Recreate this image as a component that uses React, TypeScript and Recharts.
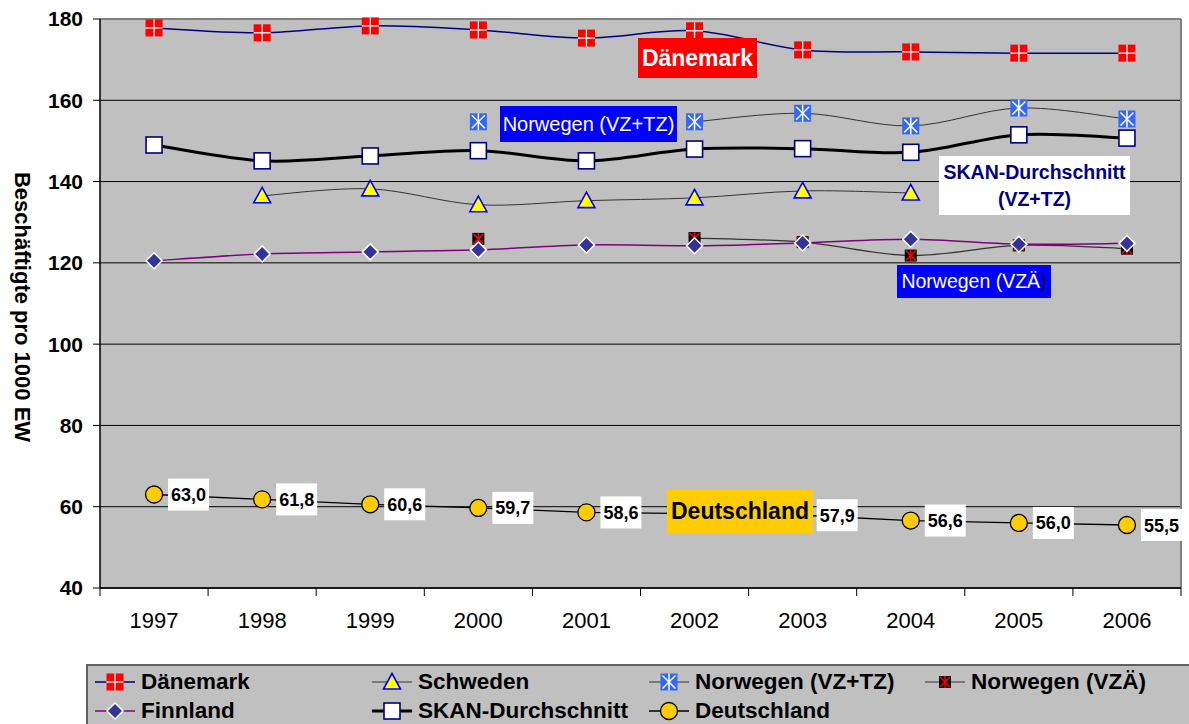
import React from 'react';
import { LineChart, Line, XAxis, YAxis, CartesianGrid, ReferenceLine, LabelList } from 'recharts';

const years = ['1997', '1998', '1999', '2000', '2001', '2002', '2003', '2004', '2005', '2006'];
const daenemark = [177.8, 176.6, 178.3, 177.3, 175.3, 177.1, 172.4, 171.9, 171.6, 171.6];
const schweden = [null, 136.5, 138.2, 134.3, 135.3, 136.0, 137.7, 137.2, null, null];
const norwegenVZTZ = [null, null, null, 154.7, null, 154.7, 156.8, 153.7, 158.1, 155.4];
const norwegenVZAE = [null, null, null, 125.9, null, 126.1, 125.1, 121.8, 124.3, 123.5];
const finnland = [120.5, 122.2, 122.7, 123.2, 124.4, 124.2, 124.9, 125.8, 124.6, 124.8];
const skan = [149.0, 145.1, 146.3, 147.6, 145.1, 148.0, 148.1, 147.2, 151.5, 150.7];
const deutschland = [63.0, 61.8, 60.6, 59.7, 58.6, 58.3, 57.9, 56.6, 56.0, 55.5];
const yTicks = [40, 60, 80, 100, 120, 140, 160, 180];
// value labels hidden under the "Deutschland" annotation in the reference
const hiddenLabelYears = ['2002'];

const FONT = '"Liberation Sans", Arial, Helvetica, sans-serif';

const data = years.map((y, i) => ({
  idx: i,
  year: y,
  dk: daenemark[i],
  se: schweden[i],
  nt: norwegenVZTZ[i],
  na: norwegenVZAE[i],
  fi: finnland[i],
  sk: skan[i],
  de: deutschland[i],
}));

// Excel-like smoothed line (Catmull-Rom through points)
const smooth: any = (context: any) => {
  let pts: number[][] = [];
  return {
    areaStart() {},
    areaEnd() {},
    lineStart() {
      pts = [];
    },
    point(x: number, y: number) {
      pts.push([+x, +y]);
    },
    lineEnd() {
      const n = pts.length;
      if (!n) return;
      context.moveTo(pts[0][0], pts[0][1]);
      if (n === 1) {
        context.lineTo(pts[0][0], pts[0][1]);
        return;
      }
      for (let i = 0; i < n - 1; i++) {
        const p0 = pts[Math.max(i - 1, 0)];
        const p1 = pts[i];
        const p2 = pts[i + 1];
        const p3 = pts[Math.min(i + 2, n - 1)];
        const c1x = p1[0] + (p2[0] - p0[0]) / 6;
        const c1y = p1[1] + (p2[1] - p0[1]) / 6;
        const c2x = p2[0] - (p3[0] - p1[0]) / 6;
        const c2y = p2[1] - (p3[1] - p1[1]) / 6;
        context.bezierCurveTo(c1x, c1y, c2x, c2y, p2[0], p2[1]);
      }
    },
  };
};

type Kind = 'dk' | 'tri' | 'starBlue' | 'starRed' | 'diamond' | 'sq' | 'circle';

function shape(kind: Kind, cx: number, cy: number) {
  switch (kind) {
    case 'dk': {
      const h = 8.5;
      return (
        <g>
          <rect x={cx - h} y={cy - h} width={2 * h} height={2 * h} fill="#FF0000" />
          <line x1={cx} x2={cx} y1={cy - h} y2={cy + h} stroke="#FFFFFF" strokeWidth={1.3} />
          <line x1={cx - h} x2={cx + h} y1={cy} y2={cy} stroke="#FFFFFF" strokeWidth={1.3} />
        </g>
      );
    }
    case 'tri':
      return (
        <polygon
          points={`${cx},${cy - 8.5} ${cx + 8.5},${cy + 7} ${cx - 8.5},${cy + 7}`}
          fill="#FFFF00"
          stroke="#0000FF"
          strokeWidth={1.6}
          strokeLinejoin="miter"
        />
      );
    case 'starBlue': {
      const h = 8.5;
      const d = 6.5;
      return (
        <g>
          <rect x={cx - h} y={cy - h} width={2 * h} height={2 * h} fill="#3366FF" />
          <line x1={cx} x2={cx} y1={cy - h} y2={cy + h} stroke="#FFFFFF" strokeWidth={1.5} />
          <line x1={cx - d} x2={cx + d} y1={cy - d} y2={cy + d} stroke="#FFFFFF" strokeWidth={1.5} />
          <line x1={cx - d} x2={cx + d} y1={cy + d} y2={cy - d} stroke="#FFFFFF" strokeWidth={1.5} />
        </g>
      );
    }
    case 'starRed': {
      const h = 6;
      const d = 5;
      return (
        <g>
          <rect x={cx - h} y={cy - h} width={2 * h} height={2 * h} fill="#000000" />
          <line x1={cx} x2={cx} y1={cy - h} y2={cy + h} stroke="#FF0000" strokeWidth={1.5} />
          <line x1={cx - d} x2={cx + d} y1={cy - d} y2={cy + d} stroke="#FF0000" strokeWidth={1.5} />
          <line x1={cx - d} x2={cx + d} y1={cy + d} y2={cy - d} stroke="#FF0000" strokeWidth={1.5} />
        </g>
      );
    }
    case 'diamond': {
      const h = 8;
      return (
        <polygon
          points={`${cx},${cy - h} ${cx + h},${cy} ${cx},${cy + h} ${cx - h},${cy}`}
          fill="#333399"
          stroke="#FFFFFF"
          strokeWidth={1.5}
        />
      );
    }
    case 'sq': {
      const h = 8;
      return (
        <rect x={cx - h} y={cy - h} width={2 * h} height={2 * h} fill="#FFFFFF" stroke="#000080" strokeWidth={1.6} />
      );
    }
    case 'circle':
    default:
      return <circle cx={cx} cy={cy} r={8.5} fill="#FFCC00" stroke="#000000" strokeWidth={1.3} />;
  }
}

const dotFor = (kind: Kind) => (props: any) => {
  const { cx, cy, index, value } = props;
  const v = Array.isArray(value) ? value[1] : value;
  if (cx == null || cy == null || v == null || isNaN(cy)) return <g key={`e-${kind}-${index}`} />;
  return <g key={`d-${kind}-${index}`}>{shape(kind, cx, cy)}</g>;
};

const series: { key: string; name: string; kind: Kind; stroke: string; width: number; curve: any }[] = [
  { key: 'dk', name: 'Dänemark', kind: 'dk', stroke: '#000080', width: 1.5, curve: smooth },
  { key: 'se', name: 'Schweden', kind: 'tri', stroke: '#333333', width: 1, curve: smooth },
  { key: 'nt', name: 'Norwegen (VZ+TZ)', kind: 'starBlue', stroke: '#333333', width: 1, curve: smooth },
  { key: 'na', name: 'Norwegen (VZÄ)', kind: 'starRed', stroke: '#333333', width: 1.2, curve: smooth },
  { key: 'fi', name: 'Finnland', kind: 'diamond', stroke: '#800080', width: 1.5, curve: smooth },
  { key: 'sk', name: 'SKAN-Durchschnitt', kind: 'sq', stroke: '#000000', width: 3, curve: smooth },
  { key: 'de', name: 'Deutschland', kind: 'circle', stroke: '#000000', width: 1.3, curve: 'linear' },
];

const legendOrder = [
  ['dk', 'se', 'nt', 'na'],
  ['fi', 'sk', 'de'],
];
const legendCols = [95, 372, 649, 925];
const legendRows = [682, 711];

const XTick = (props: any) => {
  const { x, y, payload } = props;
  const v = payload.value;
  if (Number.isInteger(v)) {
    return (
      <text x={x} y={y + 40} textAnchor="middle" fontSize={22} fontFamily={FONT} fill="#000">
        {years[v]}
      </text>
    );
  }
  return <line x1={x} x2={x} y1={y} y2={y + 8} stroke="#000" strokeWidth={1} />;
};

const DeLabel = (props: any) => {
  const { x, y, value, index } = props;
  if (value == null) return null;
  if (hiddenLabelYears.includes(years[index])) return null;
  const bx = x + 14;
  const txt = Number(value).toFixed(1).replace('.', ',');
  return (
    <g key={`lab-${index}`}>
      <rect x={bx} y={y - 16} width={41} height={32} fill="#FFFFFF" />
      <text
        x={bx + 20.5}
        y={y + 6.5}
        textAnchor="middle"
        fontSize={18}
        fontWeight="bold"
        fontFamily={FONT}
        fill="#000"
      >
        {txt}
      </text>
    </g>
  );
};

const boxStyle = (s: React.CSSProperties): React.CSSProperties => ({
  position: 'absolute',
  display: 'flex',
  alignItems: 'center',
  justifyContent: 'center',
  fontFamily: FONT,
  whiteSpace: 'nowrap',
  boxSizing: 'border-box',
  ...s,
});

export default function App() {
  const xTicks: number[] = [];
  for (let i = -0.5; i <= 9.5; i += 0.5) xTicks.push(i);
  const byKey: Record<string, (typeof series)[number]> = {};
  series.forEach((s) => (byKey[s.key] = s));

  return (
    <div
      style={{
        position: 'absolute',
        left: 0,
        top: 0,
        width: 1189,
        height: 724,
        background: '#FFFFFF',
        overflow: 'hidden',
        fontFamily: FONT,
      }}
    >
      <LineChart
        width={1189}
        height={724}
        data={data}
        margin={{ top: 19, right: 8, left: 40, bottom: 96 }}
        style={{ position: 'absolute', left: 0, top: 0 }}
      >
        <CartesianGrid vertical={false} fill="#C0C0C0" fillOpacity={1} stroke="#000000" strokeWidth={1} />
        <XAxis
          dataKey="idx"
          type="number"
          domain={[-0.5, 9.5]}
          ticks={xTicks}
          interval={0}
          tickLine={false}
          tickSize={0}
          tickMargin={0}
          height={40}
          axisLine={{ stroke: '#000', strokeWidth: 1.5 }}
          tick={<XTick />}
        />
        <YAxis
          type="number"
          domain={[40, 180]}
          ticks={yTicks}
          interval={0}
          width={60}
          tickSize={7}
          tickMargin={10}
          axisLine={{ stroke: '#000', strokeWidth: 1.5 }}
          tickLine={{ stroke: '#000' }}
          tick={{ fontSize: 21, fontWeight: 'bold', fill: '#000', fontFamily: FONT }}
        />
        <ReferenceLine y={180} stroke="#808080" strokeWidth={2} />
        <ReferenceLine x={9.5} stroke="#808080" strokeWidth={2} />
        {series.map((s) => (
          <Line
            key={s.key}
            dataKey={s.key}
            name={s.name}
            type={s.curve}
            stroke={s.stroke}
            strokeWidth={s.width}
            dot={dotFor(s.kind)}
            activeDot={false}
            isAnimationActive={false}
            connectNulls={false}
          >
            {s.key === 'de' ? <LabelList dataKey="de" content={<DeLabel />} /> : null}
          </Line>
        ))}
      </LineChart>

      {/* Y axis title */}
      <div
        style={{
          position: 'absolute',
          left: 22,
          top: 307,
          transform: 'translate(-50%, -50%) rotate(90deg)',
          fontSize: 22,
          fontWeight: 'bold',
          fontFamily: FONT,
          whiteSpace: 'nowrap',
          color: '#000',
        }}
      >
        Beschäftigte pro 1000 EW
      </div>

      {/* Annotations */}
      <div style={boxStyle({ left: 638, top: 38, width: 119, height: 40, background: '#FF0000', color: '#FFFFFF', fontWeight: 'bold', fontSize: 23 })}>
        Dänemark
      </div>
      <div style={boxStyle({ left: 500, top: 106, width: 177, height: 36, background: '#0000FF', color: '#FFFFFF', fontSize: 20 })}>
        Norwegen (VZ+TZ)
      </div>
      <div
        style={boxStyle({
          left: 939,
          top: 156,
          width: 191,
          height: 59,
          background: '#FFFFFF',
          color: '#000080',
          fontWeight: 'bold',
          fontSize: 19.5,
          flexDirection: 'column',
          lineHeight: '27px',
        })}
      >
        <div>SKAN-Durchschnitt</div>
        <div>(VZ+TZ)</div>
      </div>
      <div style={boxStyle({ left: 897, top: 265, width: 154, height: 33, background: '#0000FF', color: '#FFFFFF', fontSize: 19.5 })}>
        Norwegen (VZÄ<span style={{ color: '#000033' }}>)</span>
      </div>
      <div style={boxStyle({ left: 667, top: 490, width: 146, height: 43, background: '#FFCC00', color: '#000000', fontWeight: 'bold', fontSize: 23 })}>
        Deutschland
      </div>

      {/* Legend */}
      <div
        style={{
          position: 'absolute',
          left: 86,
          top: 664,
          width: 1189,
          height: 100,
          background: '#C0C0C0',
          borderTop: '2px solid #606060',
          borderLeft: '2px solid #606060',
          boxSizing: 'border-box',
        }}
      />
      {legendOrder.map((row, ri) =>
        row.map((k, ci) => {
          const s = byKey[k];
          const cy = legendRows[ri];
          const lx = legendCols[ci];
          return (
            <div key={k} style={{ position: 'absolute', left: lx, top: cy - 13, height: 26, display: 'flex', alignItems: 'center' }}>
              <svg width={40} height={26} style={{ display: 'block' }}>
                <line x1={0} x2={40} y1={13} y2={13} stroke={s.stroke} strokeWidth={s.width} />
                {shape(s.kind, 20, 13)}
              </svg>
              <span
                style={{
                  marginLeft: 6,
                  fontSize: 22.5,
                  fontWeight: 'bold',
                  fontFamily: FONT,
                  color: '#000',
                  whiteSpace: 'nowrap',
                  lineHeight: '26px',
                }}
              >
                {s.name}
              </span>
            </div>
          );
        })
      )}
    </div>
  );
}
